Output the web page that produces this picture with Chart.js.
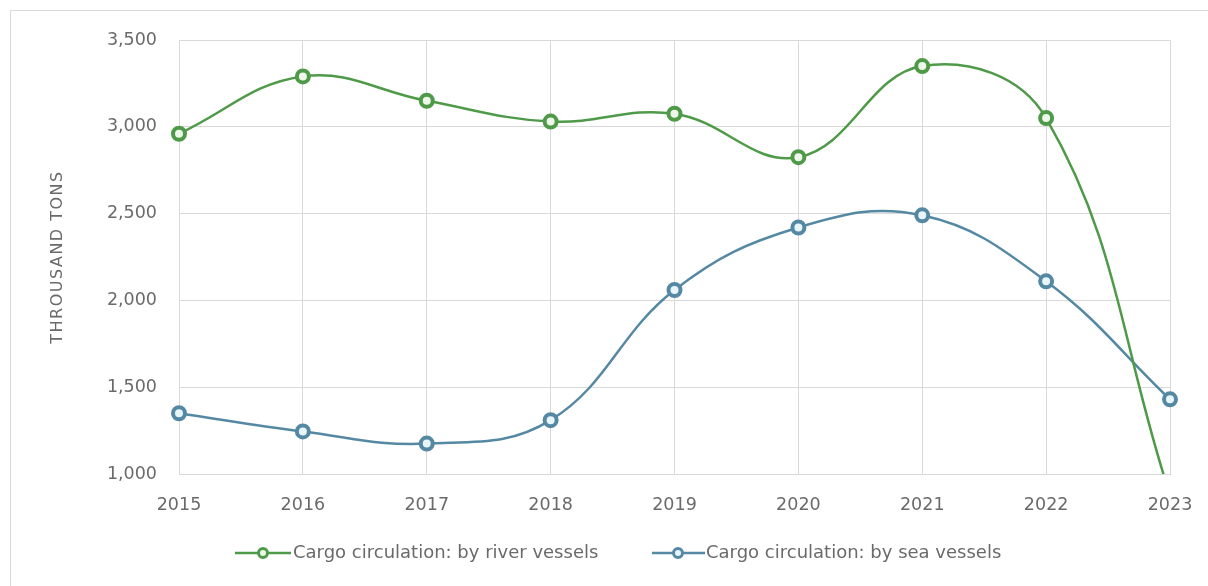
<!DOCTYPE html>
<html>
<head>
<meta charset="utf-8">
<script src="https://cdn.jsdelivr.net/npm/chart.js@4.4.1/dist/chart.umd.min.js"></script>
<style>
html,body{margin:0;padding:0;background:#fff;overflow:hidden;}
#wrap{position:absolute;left:0;top:0;width:1208px;height:586px;}
#frame{position:absolute;left:10px;top:10px;width:1210px;height:600px;border:1px solid #d9d9d9;box-sizing:border-box;}
canvas{position:absolute;left:0;top:0;}
</style>
</head>
<body>
<div id="wrap">
<div id="frame"></div>
<canvas id="c" width="1208" height="586"></canvas>
</div>
<script>
const years = ["2015","2016","2017","2018","2019","2020","2021","2022","2023"];
const riverVessels = [2960, 3290, 3150, 3030, 3075, 2825, 3350, 3050, 880];
const seaVessels = [1350, 1245, 1175, 1310, 2060, 2420, 2490, 2110, 1430];
const seriesNames = ["Cargo circulation: by river vessels", "Cargo circulation: by sea vessels"];
const yTitle = "THROUSAND TONS";
const yMin = 1000, yMax = 3500, yStep = 500;

const FONT = "'DejaVu Sans', sans-serif";
const TXT = "#6a6a6a";
const GREEN = "#4f9a48", GREEN_FILL = "#eef8ea";
const BLUE = "#5588a3", BLUE_FILL = "#e8f6fb";

const extras = {
  id: 'extras',
  afterDraw(chart) {
    const ctx = chart.ctx;
    ctx.save();
    const ca = chart.chartArea;
    ctx.translate(58, (ca.top + ca.bottom) / 2);
    ctx.rotate(-Math.PI / 2);
    ctx.fillStyle = TXT;
    ctx.font = "16px " + FONT;
    ctx.letterSpacing = "1.5px";
    ctx.textAlign = "center";
    ctx.textBaseline = "middle";
    ctx.fillText(yTitle, 0, 0);
    ctx.restore();
    const items = [
      {x0: 235, x1: 291, mx: 263, tx: 293, color: GREEN, fill: GREEN_FILL, text: seriesNames[0]},
      {x0: 652, x1: 705, mx: 678, tx: 706, color: BLUE, fill: BLUE_FILL, text: seriesNames[1]}
    ];
    const ly = 553;
    ctx.save();
    items.forEach(it => {
      ctx.strokeStyle = it.color;
      ctx.lineWidth = 2.5;
      ctx.beginPath();
      ctx.moveTo(it.x0, ly);
      ctx.lineTo(it.x1, ly);
      ctx.stroke();
      ctx.beginPath();
      ctx.arc(it.mx, ly, 4.5, 0, Math.PI * 2);
      ctx.fillStyle = it.fill;
      ctx.fill();
      ctx.lineWidth = 3;
      ctx.stroke();
      ctx.fillStyle = TXT;
      ctx.font = "18px " + FONT;
      ctx.textAlign = "left";
      ctx.textBaseline = "middle";
      ctx.fillText(it.text, it.tx, ly);
    });
    ctx.restore();
  }
};

new Chart(document.getElementById('c'), {
  type: 'line',
  data: {
    labels: years,
    datasets: [
      {
        label: seriesNames[0], data: riverVessels,
        borderColor: GREEN, backgroundColor: GREEN_FILL,
        pointBackgroundColor: GREEN_FILL, pointBorderColor: GREEN,
        pointRadius: 6, pointBorderWidth: 4, borderWidth: 2.5, tension: 0.4
      },
      {
        label: seriesNames[1], data: seaVessels,
        borderColor: BLUE, backgroundColor: BLUE_FILL,
        pointBackgroundColor: BLUE_FILL, pointBorderColor: BLUE,
        pointRadius: 6, pointBorderWidth: 4, borderWidth: 2.5, tension: 0.4
      }
    ]
  },
  options: {
    responsive: false,
    animation: false,
    layout: {padding: {left: 0, right: 0, top: 40, bottom: 72}},
    plugins: {legend: {display: false}, tooltip: {enabled: false}},
    scales: {
      x: {
        grid: {color: "#d9d9d9", drawTicks: false},
        border: {color: "#d9d9d9"},
        ticks: {color: TXT, font: {family: FONT, size: 17.5}, padding: 21, maxRotation: 0},
        afterFit(s) { s.height = 40; s.paddingRight = 38; s.paddingLeft = 0; }
      },
      y: {
        min: yMin, max: yMax,
        grid: {color: "#d9d9d9", drawTicks: false},
        border: {color: "#d9d9d9"},
        ticks: {color: TXT, font: {family: FONT, size: 17.5}, padding: 22, stepSize: yStep,
          callback: v => v.toLocaleString('en-US')},
        afterFit(s) { s.width = 179; }
      }
    }
  },
  plugins: [extras]
});
</script>
</body>
</html>
